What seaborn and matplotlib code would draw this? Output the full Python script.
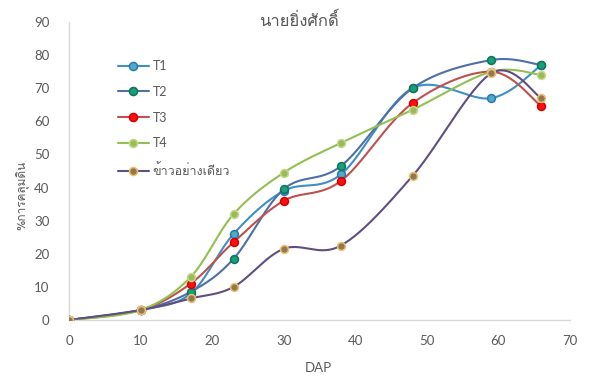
import matplotlib
matplotlib.use("Agg")
import matplotlib.pyplot as plt
from matplotlib.lines import Line2D
import numpy as np
import pandas as pd
import seaborn as sns

# ---- data ----
dap = [0, 10, 17, 23, 30, 38, 48, 59, 66]
t1 = [0, 3, 8, 26, 39, 44, 70, 67, 77]
t2 = [0, 3, 8.5, 18.5, 39.5, 46.5, 70, 78.5, 77]
t3 = [0, 3, 11, 23.5, 36, 42, 65.5, 75, 64.5]
t4 = [0, 3, 13, 32, 44.5, 53.5, 63.5, 75, 74]
rice = [0, 3, 6.5, 10, 21.5, 22.5, 43.5, 74.5, 67]
series_names = ["T1", "T2", "T3", "T4", "ข้าวอย่างเดียว"]
title = "นายยิ่งศักดิ์"
xlabel = "DAP"
ylabel = "%การคลุมดิน"
xticks = [0, 10, 20, 30, 40, 50, 60, 70]
yticks = [0, 10, 20, 30, 40, 50, 60, 70, 80, 90]

styles = {
    "T1": dict(line="#3F8FC6", face="#4BACC6", edge="#2E75B6"),
    "T2": dict(line="#4E6FA8", face="#17A07A", edge="#10735A"),
    "T3": dict(line="#C0504D", face="#FF1010", edge="#D00000"),
    "T4": dict(line="#92C050", face="#9BBB59", edge="#C3D98A"),
    "ข้าวอย่างเดียว": dict(line="#5F4F80", face="#8E7A52", edge="#F2BE6A"),
}

rows = []
for name, vals in zip(series_names, [t1, t2, t3, t4, rice]):
    for x, y in zip(dap, vals):
        rows.append((name, x, y))
df = pd.DataFrame(rows, columns=["series", "DAP", "value"])


def smooth(xs, ys, n=30):
    # Catmull-Rom style smoothing (like Excel smoothed line)
    xs = np.asarray(xs, float)
    ys = np.asarray(ys, float)
    P = np.column_stack([xs, ys])
    P = np.vstack([P[0], P, P[-1]])
    out = []
    t = np.linspace(0, 1, n)
    for i in range(1, len(P) - 2):
        p0, p1, p2, p3 = P[i - 1], P[i], P[i + 1], P[i + 2]
        c1 = p1 + (p2 - p0) / 6.0
        c2 = p2 - (p3 - p1) / 6.0
        tt = t[:, None]
        seg = ((1 - tt) ** 3) * p1 + 3 * ((1 - tt) ** 2) * tt * c1 + 3 * (1 - tt) * tt ** 2 * c2 + tt ** 3 * p2
        out.append(seg if i == 1 else seg[1:])
    S = np.vstack(out)
    return S[:, 0], S[:, 1]


sns.set_theme(style="white")
plt.rcParams["font.family"] = ["Lato", "Loma", "DejaVu Sans"]

fig = plt.figure(figsize=(5.91, 3.76), dpi=100)
ax = fig.add_axes([69 / 591, 1 - 320 / 376, (570 - 69) / 591, (320 - 22) / 376])

for name in series_names:
    sub = df[df["series"] == name]
    st = styles[name]
    sx, sy = smooth(sub["DAP"], sub["value"])
    ax.plot(sx, sy, color=st["line"], lw=1.5, zorder=2, solid_capstyle="round")
for name in series_names:
    sub = df[df["series"] == name]
    st = styles[name]
    sns.scatterplot(data=sub, x="DAP", y="value", ax=ax, color=st["face"],
                    edgecolor=st["edge"], linewidth=1.1, s=32, zorder=3, legend=False)

ax.set_xlim(0, 70)
ax.set_ylim(0, 90)
ax.set_xticks(xticks)
ax.set_yticks(yticks)
ax.tick_params(axis="x", colors="#595959", labelsize=9.5, length=3, width=0.8,
               direction="out", pad=8, color="#D9D9D9")
ax.tick_params(axis="y", colors="#595959", labelsize=9.5, length=0, pad=14)
for s in ["top", "right"]:
    ax.spines[s].set_visible(False)
for s in ["left", "bottom"]:
    ax.spines[s].set_color("#D9D9D9")
    ax.spines[s].set_linewidth(1.0)
ax.set_xlabel("")
ax.set_ylabel("")

fig.text(299 / 591, 1 - 21 / 376, title, ha="center", va="center", fontsize=12,
         color="#595959", family=["Loma", "DejaVu Sans"])
fig.text(318 / 591, 1 - 368 / 376, xlabel, ha="center", va="center", fontsize=9.5, color="#595959")
fig.text(22 / 591, 1 - 195 / 376, ylabel, ha="center", va="center", rotation=90, fontsize=8.5,
         color="#595959", family=["Loma", "DejaVu Sans"])

handles = [Line2D([0], [0], color=styles[n]["line"], lw=1.5, marker="o", markersize=5.8,
                  markerfacecolor=styles[n]["face"], markeredgecolor=styles[n]["edge"],
                  markeredgewidth=1.1) for n in series_names]
leg = ax.legend(handles, series_names, loc="upper left", bbox_to_anchor=(0.075, 0.91),
                frameon=False, fontsize=9, labelspacing=1.1, handlelength=2.5,
                handletextpad=0.3, prop={"family": ["Lato", "Loma"], "size": 9})
for t in leg.get_texts():
    t.set_color("#595959")

fig.savefig("out.png", dpi=100)
